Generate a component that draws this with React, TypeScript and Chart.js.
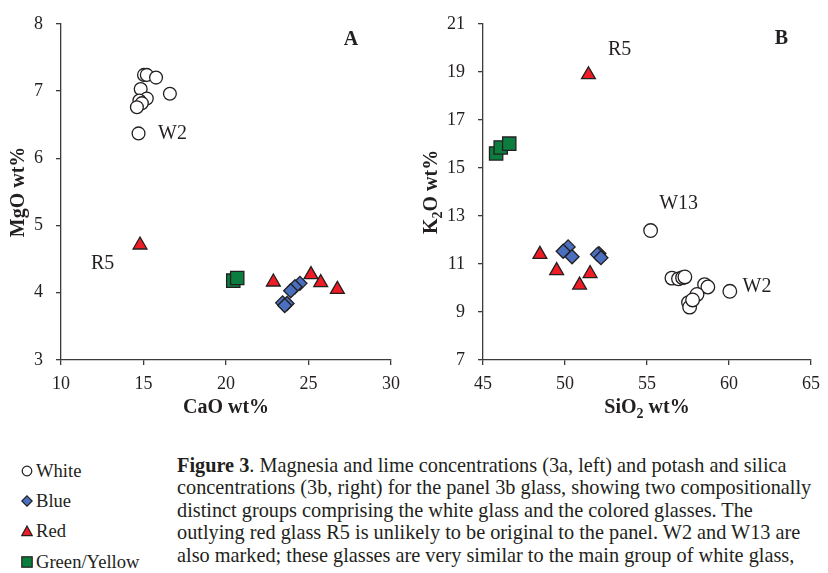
import React, { useEffect, useRef } from 'react';
import { Chart, registerables } from 'chart.js';

Chart.register(...registerables);

const FONT = '"Liberation Serif", "Times New Roman", serif';
const INK = '#231f20';
const AXIS = '#3b3b3b';
const BLUE = '#4a6fbf';
const RED = '#ee1c24';
const GREEN = '#0b7d3e';

// ---- Panel A: CaO wt% (x) vs MgO wt% (y)
const whiteCaO = [15.03, 15.2, 15.76, 14.83, 16.6, 15.2, 14.75, 14.9, 14.6, 14.7];
const whiteMgO = [7.24, 7.24, 7.2, 7.03, 6.96, 6.89, 6.86, 6.82, 6.76, 6.37];
const blueCaO = [24.48, 24.18, 23.92, 23.43, 23.7, 23.56];
const blueMgO = [4.14, 4.09, 4.03, 3.85, 3.84, 3.81];
const redCaO = [14.79, 22.87, 25.15, 25.74, 26.75];
const redMgO = [4.71, 4.16, 4.27, 4.15, 4.05];
const greenCaO = [20.44, 20.68];
const greenMgO = [4.18, 4.22];

// ---- Panel B: SiO2 wt% (x) vs K2O wt% (y)
const whiteSiO2 = [55.22, 56.52, 56.92, 57.17, 57.31, 58.51, 58.71, 58.05, 57.53, 57.6, 57.78, 60.05];
const whiteK2O = [12.39, 10.41, 10.38, 10.43, 10.46, 10.14, 10.04, 9.73, 9.39, 9.2, 9.5, 9.86];
const blueSiO2 = [50.19, 49.89, 50.43, 52.07, 51.98, 52.19];
const blueK2O = [11.71, 11.53, 11.3, 11.43, 11.4, 11.26];
const redSiO2 = [51.43, 48.47, 49.49, 51.53, 50.89];
const redK2O = [18.88, 11.4, 10.72, 10.6, 10.12];
const greenSiO2 = [45.8, 46.08, 46.6];
const greenK2O = [15.6, 15.85, 16.01];

// ---- axis ticks / ranges
const xTicksA = [10, 15, 20, 25, 30];
const yTicksA = [3, 4, 5, 6, 7, 8];
const xTicksB = [45, 50, 55, 60, 65];
const yTicksB = [7, 9, 11, 13, 15, 17, 19, 21];

// ---- text labels placed in data units
const labelsA = [
  { text: 'W2', x: 15.88, y: 6.36, bold: false, align: 'left' },
  { text: 'R5', x: 11.82, y: 4.43, bold: false, align: 'left' },
  { text: 'A', x: 27.58, y: 7.76, bold: true, align: 'center' },
];
const labelsB = [
  { text: 'R5', x: 52.62, y: 19.91, bold: false, align: 'left' },
  { text: 'W13', x: 55.74, y: 13.51, bold: false, align: 'left' },
  { text: 'W2', x: 60.83, y: 10.07, bold: false, align: 'left' },
  { text: 'B', x: 63.2, y: 20.36, bold: true, align: 'center' },
];

const legendItems = ['White', 'Blue', 'Red', 'Green/Yellow'];

const captionLines = [
  'Magnesia and lime concentrations (3a, left) and potash and silica',
  'concentrations (3b, right) for the panel 3b glass, showing two compositionally',
  'distinct groups comprising the white glass and the colored glasses. The',
  'outlying red glass R5 is unlikely to be original to the panel. W2 and W13 are',
  'also marked; these glasses are very similar to the main group of white glass,',
];

type Seg = { t: string; sub?: boolean };

function drawSegments(ctx: CanvasRenderingContext2D, segs: Seg[], cx: number, cy: number, rot: number) {
  const main = `bold 20px ${FONT}`;
  const sub = `bold 14px ${FONT}`;
  ctx.save();
  ctx.translate(cx, cy);
  ctx.rotate(rot);
  ctx.textAlign = 'left';
  ctx.textBaseline = 'alphabetic';
  ctx.fillStyle = INK;
  const widths = segs.map((s) => {
    ctx.font = s.sub ? sub : main;
    return ctx.measureText(s.t).width;
  });
  const total = widths.reduce((a, b) => a + b, 0);
  let x = -total / 2;
  segs.forEach((s, i) => {
    ctx.font = s.sub ? sub : main;
    ctx.fillText(s.t, x, s.sub ? 12 : 7);
    x += widths[i];
  });
  ctx.restore();
}

const panelText = {
  id: 'panelText',
  afterDraw(chart: any, _args: any, opts: any) {
    const { ctx, chartArea, scales } = chart;
    ctx.save();
    ctx.fillStyle = INK;
    ctx.textBaseline = 'middle';
    for (const a of opts.labels || []) {
      ctx.font = `${a.bold ? 'bold ' : ''}20px ${FONT}`;
      ctx.textAlign = a.align;
      ctx.fillText(a.text, scales.x.getPixelForValue(a.x), scales.y.getPixelForValue(a.y));
    }
    ctx.restore();
    drawSegments(ctx, opts.xTitle, (chartArea.left + chartArea.right) / 2, opts.xTitleY, 0);
    drawSegments(ctx, opts.yTitle, opts.yTitleX, (chartArea.top + chartArea.bottom) / 2, -Math.PI / 2);
  },
};

function makeDatasets(
  wx: number[], wy: number[], bx: number[], by: number[],
  rx: number[], ry: number[], gx: number[], gy: number[], circleR: number,
) {
  const pts = (xs: number[], ys: number[]) => xs.map((x, i) => ({ x, y: ys[i] }));
  return [
    {
      label: 'White', data: pts(wx, wy), pointStyle: 'circle', pointRadius: circleR,
      backgroundColor: '#ffffff', borderColor: INK, borderWidth: 1.3, showLine: false,
    },
    {
      label: 'Blue', data: pts(bx, by), pointStyle: 'rectRot', pointRadius: 7,
      backgroundColor: BLUE, borderColor: INK, borderWidth: 1.3, showLine: false,
    },
    {
      label: 'Red', data: pts(rx, ry), pointStyle: 'triangle', pointRadius: 8,
      backgroundColor: RED, borderColor: INK, borderWidth: 1.3, showLine: false,
    },
    {
      label: 'Green/Yellow', data: pts(gx, gy), pointStyle: 'rect', pointRadius: 9.4,
      backgroundColor: GREEN, borderColor: INK, borderWidth: 1.3, showLine: false,
    },
  ];
}

function axis(min: number, max: number, ticks: number[], isX: boolean, fixed: number, padding: number) {
  return {
    type: 'linear',
    min,
    max,
    afterBuildTicks: (s: any) => { s.ticks = ticks.map((v) => ({ value: v })); },
    ticks: { font: { family: FONT, size: 18 }, color: INK, padding },
    grid: { drawOnChartArea: false, drawTicks: true, tickLength: 5, color: AXIS, lineWidth: 1.3 },
    border: { display: true, color: AXIS, width: 1.3 },
    afterFit: (s: any) => { if (isX) s.height = fixed; else s.width = fixed; },
  };
}

function Panel(props: { which: 'A' | 'B' }) {
  const ref = useRef<HTMLCanvasElement | null>(null);
  const isA = props.which === 'A';
  const w = isA ? 410 : 418;
  useEffect(() => {
    if (!ref.current) return;
    const datasets = isA
      ? makeDatasets(whiteCaO, whiteMgO, blueCaO, blueMgO, redCaO, redMgO, greenCaO, greenMgO, 6.4)
      : makeDatasets(whiteSiO2, whiteK2O, blueSiO2, blueK2O, redSiO2, redK2O, greenSiO2, greenK2O, 6.8);
    const chart = new Chart(ref.current, {
      type: 'scatter',
      data: { datasets } as any,
      plugins: [panelText],
      options: {
        animation: false,
        responsive: false,
        maintainAspectRatio: false,
        layout: { padding: { left: 0, right: isA ? 19 : 11, top: 18, bottom: 0 } },
        plugins: {
          legend: { display: false },
          tooltip: { enabled: false },
          panelText: isA
            ? {
                labels: labelsA,
                xTitle: [{ t: 'CaO wt%' }],
                yTitle: [{ t: 'MgO wt%' }],
                xTitleY: 406,
                yTitleX: 17,
              }
            : {
                labels: labelsB,
                xTitle: [{ t: 'SiO' }, { t: '2', sub: true }, { t: ' wt%' }],
                yTitle: [{ t: 'K' }, { t: '2', sub: true }, { t: 'O wt%' }],
                xTitleY: 406,
                yTitleX: 20,
              },
        } as any,
        scales: {
          x: axis(isA ? 10 : 45, isA ? 30 : 65, isA ? xTicksA : xTicksB, true, 60, 8),
          y: axis(isA ? 3 : 7, isA ? 8 : 21, isA ? yTicksA : yTicksB, false, isA ? 61 : 73, 13),
        } as any,
      },
    });
    return () => chart.destroy();
  }, [isA]);
  return (
    <canvas
      ref={ref}
      width={w}
      height={420}
      style={{ position: 'absolute', left: isA ? 0 : 410, top: 0, width: w, height: 420 }}
    />
  );
}

function LegendMarker({ i }: { i: number }) {
  const s = { stroke: INK, strokeWidth: 1.2 };
  if (i === 0) return <circle cx={6} cy={6} r={4.8} fill="#fff" {...s} />;
  if (i === 1) return <polygon points="6,0.8 11.2,6 6,11.2 0.8,6" fill={BLUE} {...s} />;
  if (i === 2) return <polygon points="6,1 11.3,10.6 0.7,10.6" fill={RED} {...s} />;
  return <rect x={0.8} y={0.8} width={10.4} height={10.4} fill={GREEN} {...s} />;
}

export default function App() {
  const centers = [470.5, 500.5, 530.5, 561.5];
  return (
    <div style={{ position: 'absolute', left: 0, top: 0, width: 828, height: 573, overflow: 'hidden', background: '#fff' }}>
      <Panel which="A" />
      <Panel which="B" />
      {legendItems.map((name, i) => (
        <div
          key={name}
          style={{
            position: 'absolute', left: 21, top: centers[i] - 11, height: 22,
            fontFamily: FONT, fontSize: 18.6, lineHeight: '22px', color: INK, whiteSpace: 'nowrap',
            display: 'flex', alignItems: 'center',
          }}
        >
          <svg width={12} height={12} style={{ marginRight: 3 }}>
            <LegendMarker i={i} />
          </svg>
          <span>{name}</span>
        </div>
      ))}
      <div
        style={{
          position: 'absolute', left: 177, top: 453.5, fontFamily: FONT, fontSize: 20.3,
          lineHeight: '22.6px', color: INK, whiteSpace: 'nowrap',
        }}
      >
        {captionLines.map((line, i) => (
          <div key={i}>
            {i === 0 ? (
              <>
                <b>Figure 3</b>. {line}
              </>
            ) : (
              line
            )}
          </div>
        ))}
      </div>
    </div>
  );
}
